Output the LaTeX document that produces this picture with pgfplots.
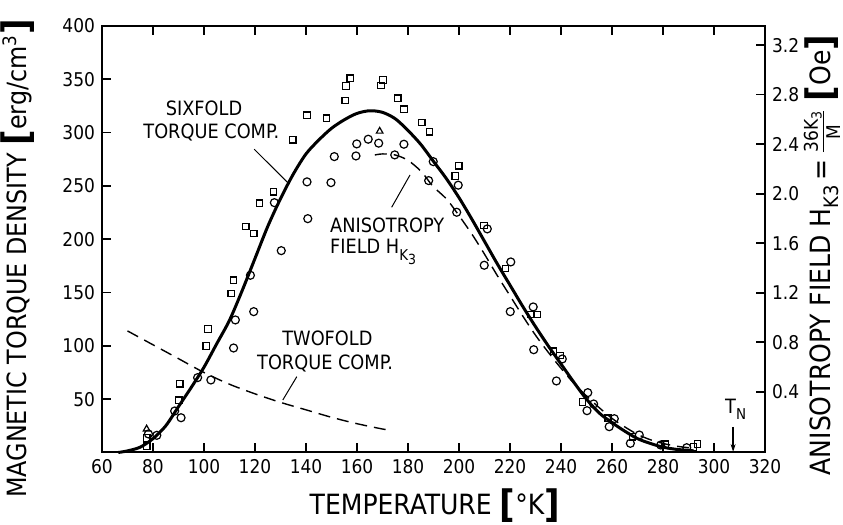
\documentclass[border=0pt]{standalone}
\usepackage{pgfplots}
\pgfplotsset{compat=1.18}
\usepackage{fontspec}
\setmainfont{DejaVu Sans Condensed}
\usetikzlibrary{arrows.meta}

\newcommand{\annot}{\fontsize{9.9}{11}\selectfont}
\newcommand{\lbl}{\fontsize{14}{15}\selectfont}
\newcommand{\ylbl}{\fontsize{13.3}{14}\selectfont}
\newcommand{\bigbr}[1]{\raisebox{-0.12em}{\fontsize{19}{19}\selectfont\bfseries #1}}

\begin{document}
\begin{tikzpicture}
\begin{axis}[
    name=ax,
    scale only axis,
    width=331.5bp, height=213.25bp,
    xmin=60, xmax=320, ymin=0, ymax=400,
    xtick={60,80,...,320},
    ytick={50,100,...,400},
    xtick pos=both, ytick pos=left,
    tick align=inside,
    major tick length=4.5bp,
    axis line style={line width=1bp},
    every tick/.style={line width=0.8bp, black},
    tick label style={font=\fontsize{9.5}{10}\selectfont},
    /pgf/number format/assume math mode=true,
    /pgf/number format/1000 sep={},
    clip=false,
    xlabel={\lbl TEMPERATURE \bigbr{[}°K\bigbr{]}},
    xlabel style={at={(axis description cs:0.502,-0.125)}, anchor=center},
    ylabel={\ylbl MAGNETIC TORQUE DENSITY \bigbr{[}erg/cm\textsuperscript{3}\bigbr{]}},
    ylabel style={at={(axis description cs:-0.127,0.455)}, anchor=center},
]

% sixfold torque component, data squares
\addplot[only marks, mark=square, mark size=1.6bp, mark options={line width=0.6bp}] coordinates {
(77.6,13.6) (77.6,6.1) (90.1,49.0) (90.5,64.5) (100.9,99.9) (101.6,115.9)
(110.7,149.0) (111.5,161.5) (116.4,211.8) (119.5,205.3) (121.8,233.8) (127.2,244.4)
(134.8,293.2) (140.4,316.3) (148.0,313.5) (155.4,330.0) (155.7,343.8) (157.3,351.0)
(169.4,344.1) (170.2,349.4) (176.0,332.3) (178.4,322.0) (185.4,309.4) (188.4,300.7)
(198.5,259.4) (199.9,268.8) (209.8,212.8) (218.2,172.4) (228.1,129.3) (230.7,129.3)
(237.1,94.9) (239.6,90.8) (248.5,47.4) (258.5,32.1) (268.0,14.8) (280.8,7.7)
(292.0,5.2) (293.6,8.0)
};

% anisotropy field, data circles
\addplot[only marks, mark=o, mark size=2bp, mark options={line width=0.6bp}] coordinates {
(78.2,17.4) (81.5,16.1) (88.5,38.9) (91.0,32.6) (97.5,70.2) (102.7,68.0)
(111.6,98.0) (112.3,124.3) (118.2,166.2) (119.5,132.1) (127.6,234.3) (130.3,189.3)
(140.4,253.8) (140.7,219.3) (149.8,253.1) (151.1,277.5) (159.6,278.1) (159.9,289.4)
(164.4,293.8) (168.5,290.1) (174.8,279.1) (178.4,289.1) (188.1,255.0) (189.9,272.8)
(199.1,225.3) (199.7,250.7) (209.9,175.6) (211.1,209.7) (220.3,178.7) (220.1,132.1)
(229.1,136.5) (229.3,96.4) (238.2,67.1) (240.5,87.7) (250.2,39.2) (250.5,56.1)
(252.8,45.5) (258.9,24.2) (260.9,31.7) (267.2,8.6) (270.7,16.4) (279.1,7.0)
(289.3,4.5)
};

% triangles
\addplot[only marks, mark=triangle, mark size=1.9bp, mark options={line width=0.6bp}] coordinates {
(77.5,22.0) (168.9,301.3)
};

% sixfold torque curve
\addplot[black, line width=1.5bp, smooth] coordinates {
(66.4,0) (70,1.5) (75,5) (80,13) (85,25) (90,43) (95,61) (100,80) (105,102)
(110,124) (115,152) (120,182) (125,212) (130,238) (135,261) (140,280) (145,293)
(150,304) (155,312) (160,318) (165,320.5) (170,319) (175,313) (180,302) (185,289)
(190,273) (195,257) (200,239) (205,219) (210,198) (215,177) (220,157) (225,137)
(230,118) (235,100) (240,83) (245,66) (250,50) (255,37) (260,28) (265,20)
(270,13) (275,8.5) (280,5) (285,3) (290,2) (292,1.5)
};

% anisotropy field curve
\addplot[black, line width=0.7bp, dash pattern=on 6bp off 3.5bp, smooth] coordinates {
(167,279) (170,280) (175,279) (180,274) (185,264) (188,255) (190,249) (195,238)
(199,225.5) (205,205) (210,186) (215,166) (220,147) (225,128) (230,110) (235,94)
(240,79) (245,65) (250,53) (255,42) (260,32) (265,24) (270,17) (275,12)
(280,8.5) (285,6) (290,4.5) (293,4)
};

% twofold torque curve
\addplot[black, line width=0.7bp, dash pattern=on 6bp off 3.5bp, smooth] coordinates {
(70,114) (80,101) (90,88) (100,75) (110,64) (120,55) (130,47) (140,40)
(150,33) (160,27) (170,22) (172,21.5)
};

% annotations
\node[font=\annot] at (axis cs:100,323) {SIXFOLD};
\node[font=\annot] at (axis cs:102.9,300) {TORQUE COMP.};
\draw[line width=0.5bp] (axis cs:119.7,284.4) -- (axis cs:133.1,252.5);

\node[font=\annot, anchor=west] at (axis cs:146.7,213.4) {ANISOTROPY};
\node[font=\annot, anchor=west] at (axis cs:146.7,188.1) {FIELD H\raisebox{-0.35em}{\fontsize{7.5}{8}\selectfont K\raisebox{-0.3em}{\fontsize{7}{7}\selectfont 3}}};
\draw[line width=0.5bp] (axis cs:173.6,230) -- (axis cs:180.8,260.3);

\node[font=\annot] at (axis cs:148.4,107.1) {TWOFOLD};
\node[font=\annot] at (axis cs:147.5,83.7) {TORQUE COMP.};
\draw[line width=0.5bp] (axis cs:130.9,49.2) -- (axis cs:136.4,71.1);

\node[font=\annot, anchor=south] at (axis cs:308.5,24) {T\raisebox{-0.3em}{\fontsize{7.5}{8}\selectfont N}};
\draw[line width=0.7bp, -{Stealth[length=4bp,width=2.5bp]}] (axis cs:307.5,24) -- (axis cs:307.5,0.5);
\end{axis}

\begin{axis}[
    scale only axis,
    width=331.5bp, height=213.25bp,
    xmin=60, xmax=320, ymin=-0.09, ymax=3.355,
    axis x line=none,
    axis y line*=right,
    ytick={0.4,0.8,...,3.2},
    ytick align=inside,
    major tick length=4.5bp,
    axis line style={line width=1bp},
    every tick/.style={line width=0.8bp, black},
    tick label style={font=\fontsize{9.5}{10}\selectfont},
    yticklabel style={/pgf/number format/fixed, /pgf/number format/fixed zerofill, /pgf/number format/precision=1},
    /pgf/number format/assume math mode=true,
    ylabel={\lbl ANISOTROPY FIELD H\raisebox{-0.3em}{\fontsize{10}{11}\selectfont K3}\,=\,$\frac{\mbox{\fontsize{9.5}{10}\selectfont 36K\raisebox{-0.2em}{\fontsize{7}{7}\selectfont 3}}}{\mbox{\fontsize{9.5}{10}\selectfont M}}$\ \bigbr{[}Oe\bigbr{]}},
    ylabel style={at={(axis description cs:1.086,0.463)}, anchor=center, rotate=0},
]
\end{axis}

\pgfresetboundingbox
\path[use as bounding box] ([xshift=-51bp,yshift=-36.25bp]ax.south west) rectangle ([xshift=39bp,yshift=13bp]ax.north east);
\end{tikzpicture}
\end{document}
